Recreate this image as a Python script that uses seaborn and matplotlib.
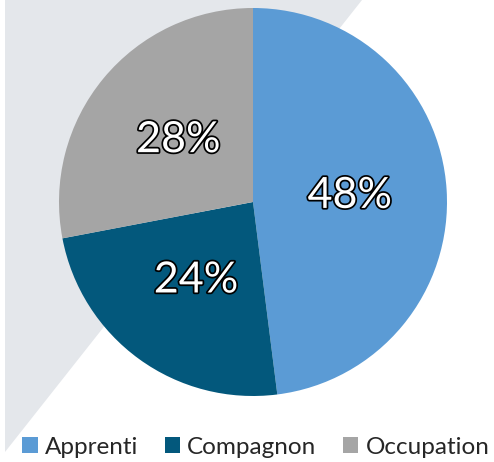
import seaborn as sns
from matplotlib import pyplot as plt
from matplotlib.patches import Polygon, Patch
import matplotlib.patheffects as pe

categories = ["Apprenti", "Compagnon", "Occupation"]
shares = [48, 24, 28]
colors = ["#5B9BD5", "#03587C", "#A5A5A5"]

sns.set_theme(style="white")
plt.rcParams['font.family'] = ['Lato', 'DejaVu Sans']

W, H = 494, 462
fig = plt.figure(figsize=(W / 100, H / 100), dpi=100)

# light grey backdrop shape behind the pie
bg_ax = fig.add_axes([0, 0, 1, 1], zorder=-1)
bg_ax.set_xlim(0, W)
bg_ax.set_ylim(H, 0)
bg_ax.axis("off")
bg_ax.add_patch(Polygon([(5, 0), (362, 0), (5, 452)], closed=True,
                        facecolor="#E4E7EB", edgecolor="none"))

ax = fig.add_axes([59 / W, 66 / H, 388 / W, 388 / H])
ax.set_facecolor("none")

wedges, texts, autotexts = ax.pie(
    shares,
    colors=colors,
    startangle=90,
    counterclock=False,
    radius=1,
    autopct='%1.0f%%',
    pctdistance=0.5,
    wedgeprops=dict(linewidth=0),
)
for t in autotexts:
    t.set_color("white")
    t.set_fontsize(31)
    t.set_path_effects([pe.withStroke(linewidth=2.5, foreground="black")])
ax.set_xlim(-1, 1)
ax.set_ylim(-1, 1)
ax.set_aspect("equal")
ax.axis("off")

handles = [Patch(facecolor=c, edgecolor="none") for c in colors]
fig.legend(handles, categories, loc="center", ncol=3,
           bbox_to_anchor=(256 / W, 1 - 447 / H), frameon=False, fontsize=17.5,
           handlelength=0.62, handleheight=0.62, handletextpad=0.3,
           columnspacing=1.1, borderpad=0)

fig.savefig("out.png", dpi=100)
